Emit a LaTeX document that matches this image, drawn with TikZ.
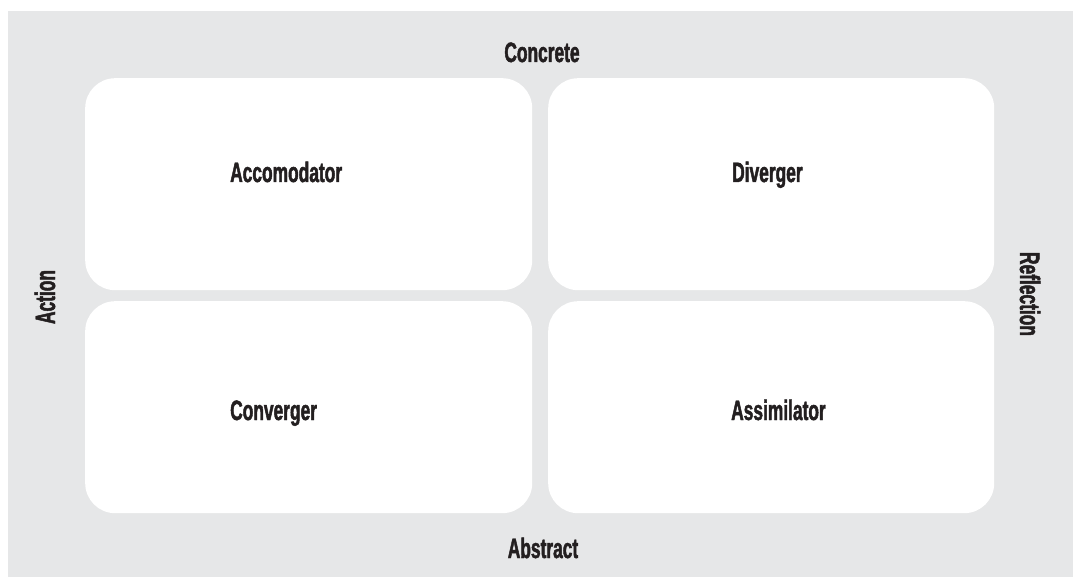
\documentclass[tikz,border=0pt]{standalone}
\usepackage{fontspec}
\setmainfont{Liberation Sans}[FakeStretch=0.62, BoldFeatures={FakeBold=1.6}]
\definecolor{bggrey}{HTML}{E6E7E8}
\definecolor{ink}{HTML}{231F20}
\tikzset{
  quad/.style={draw=none, fill=white, rounded corners=30pt, inner sep=0pt, anchor=north west},
  lbl/.style={text=ink, font=\fontsize{28}{30}\selectfont\bfseries, inner sep=0pt},
}
\begin{document}
\begin{tikzpicture}[x=1pt,y=-1pt]
\useasboundingbox (0,0) rectangle (1073,577);
\fill[bggrey] (8,11) rectangle (1073,577);
\node[quad, minimum width=447pt, minimum height=212pt] (tl) at (85,78) {};
\node[quad, minimum width=446pt, minimum height=212pt] (tr) at (548,78) {};
\node[quad, minimum width=447pt, minimum height=212pt] (bl) at (85,301) {};
\node[quad, minimum width=446pt, minimum height=212pt] (br) at (548,301) {};
\node[lbl, anchor=base west] (acc) at (230,182) {Accomodator};
\node[lbl, anchor=base west] (div) at (732,182) {Diverger};
\node[lbl, anchor=base west] (con) at (230,420) {Converger};
\node[lbl, anchor=base west] (ass) at (731,420) {Assimilator};
\node[lbl, anchor=base] (concrete) at (542,62) {Concrete};
\node[lbl, anchor=base] (abstract) at (543,558) {Abstract};
\node[lbl, rotate=90, anchor=base] (action) at (55,297) {Action};
\node[lbl, rotate=-90, anchor=base] (reflection) at (1020,294) {Reflection};
\end{tikzpicture}
\end{document}
